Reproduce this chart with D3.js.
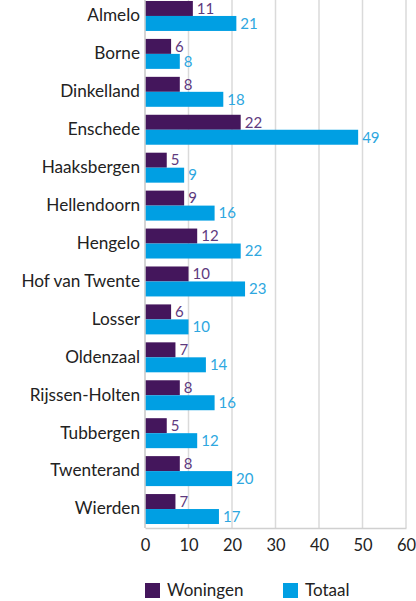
<!DOCTYPE html>
<html>
<head>
<meta charset="utf-8">
<script src="https://cdn.jsdelivr.net/npm/d3@7"></script>
<style>
  body { margin: 0; background: #fff; }
  svg text { font-family: Lato, "Open Sans", sans-serif; }
</style>
</head>
<body>
<svg id="chart" width="416" height="601"></svg>
<script>
// gemeenten en waarden
const gemeenten = ["Almelo", "Borne", "Dinkelland", "Enschede", "Haaksbergen", "Hellendoorn",
  "Hengelo", "Hof van Twente", "Losser", "Oldenzaal", "Rijssen-Holten", "Tubbergen",
  "Twenterand", "Wierden"];
const woningen = [11, 6, 8, 22, 5, 9, 12, 10, 6, 7, 8, 5, 8, 7];
const totaal = [21, 8, 18, 49, 9, 16, 22, 23, 10, 14, 16, 12, 20, 17];
const xTicks = [0, 10, 20, 30, 40, 50, 60];
const series = ["Woningen", "Totaal"];

const barColors = { Woningen: "#44165c", Totaal: "#009fe3" };
const textColors = { Woningen: "#5e3a7e", Totaal: "#2ea7e0" };

const svg = d3.select("#chart");

const x = d3.scaleLinear().domain([0, 60]).range([145, 406]);
const y = d3.scaleBand().domain(gemeenten).range([-3, 528])
  .paddingInner(0.21).paddingOuter(0.105);
const ySub = d3.scaleBand().domain(series).range([0, y.bandwidth()]);

// grid lines
svg.append("g")
  .selectAll("line")
  .data(xTicks)
  .enter().append("line")
    .attr("x1", d => x(d)).attr("x2", d => x(d))
    .attr("y1", 0).attr("y2", 528)
    .attr("stroke", "#dadada")
    .attr("stroke-width", 1.5);

// bottom axis
const xAxis = svg.append("g")
  .attr("transform", "translate(0,528)")
  .call(d3.axisBottom(x).tickValues(xTicks).tickSize(0).tickPadding(11));
xAxis.select(".domain").attr("stroke", "#d0d0d0").attr("stroke-width", 1.5);
xAxis.selectAll("text").attr("font-size", 16.5).attr("fill", "#222")
  .attr("font-family", "Lato, sans-serif");

// rows
const rows = svg.append("g")
  .selectAll("g")
  .data(gemeenten.map((g, i) => ({ name: g, Woningen: woningen[i], Totaal: totaal[i] })))
  .enter().append("g")
    .attr("transform", d => `translate(0,${y(d.name)})`);

series.forEach(s => {
  rows.append("rect")
    .attr("x", x(0))
    .attr("y", ySub(s))
    .attr("width", d => x(d[s]) - x(0))
    .attr("height", ySub.bandwidth())
    .attr("fill", barColors[s]);

  rows.append("text")
    .attr("x", d => x(d[s]) + 4)
    .attr("y", ySub(s) + ySub.bandwidth() / 2 + 1.5)
    .attr("dominant-baseline", "middle")
    .attr("font-size", 15)
    .attr("fill", textColors[s])
    .text(d => d[s]);
});

// category labels
rows.append("text")
  .attr("x", 140)
  .attr("y", y.bandwidth() / 2 + 1)
  .attr("text-anchor", "end")
  .attr("dominant-baseline", "middle")
  .attr("font-size", 17.2)
  .attr("fill", "#222")
  .text(d => d.name);

// left axis line
svg.append("line")
  .attr("x1", x(0)).attr("x2", x(0))
  .attr("y1", 0).attr("y2", 528)
  .attr("stroke", "#d0d0d0")
  .attr("stroke-width", 1.5);

// legend
const legendX = [145, 283];
const legend = svg.append("g")
  .selectAll("g")
  .data(series)
  .enter().append("g")
    .attr("transform", (d, i) => `translate(${legendX[i]},583)`);

legend.append("rect")
  .attr("width", 15).attr("height", 15)
  .attr("fill", d => barColors[d]);

legend.append("text")
  .attr("x", 22)
  .attr("y", 8.5)
  .attr("dominant-baseline", "middle")
  .attr("font-size", 17)
  .attr("fill", "#222")
  .text(d => d);
</script>
</body>
</html>
